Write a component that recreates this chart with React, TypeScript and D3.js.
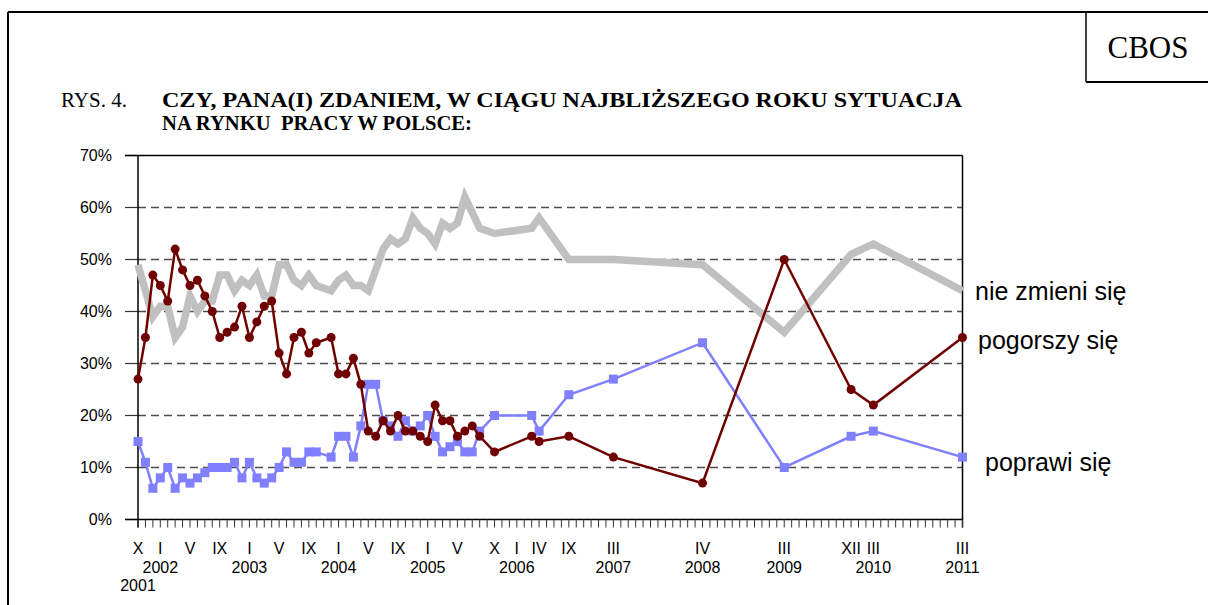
import React from "react";
import * as d3 from "d3";

// ---- data (category index on a monthly-ish axis of 112 categories) ----
const categoryCount = 112;
const surveyIndex = [
  0, 1, 2, 3, 4, 5, 6, 7, 8, 9, 10, 11, 12, 13, 14, 15, 16, 17, 18, 19, 20, 21, 22, 23, 24,
  26, 27, 28, 29, 30, 31, 32, 33, 34, 35, 36, 37, 38, 39, 40, 41, 42, 43, 44, 45, 46,
  48, 53, 54, 58, 64, 76, 87, 96, 99, 111,
];
const nieZmieni = [
  49, 44, 39, 41, 41, 35, 37, 43, 40, 42, 42, 47, 47, 44, 46, 45, 47, 43, 43, 49, 49, 46, 45, 47, 45,
  44, 46, 47, 45, 45, 44, 48, 52, 54, 53, 54, 58, 56, 55, 53, 57, 56, 57, 62, 59, 56,
  55, 56, 58, 50, 50, 49, 36, 51, 53, 44,
];
const pogorszy = [
  27, 35, 47, 45, 42, 52, 48, 45, 46, 43, 40, 35, 36, 37, 41, 35, 38, 41, 42, 32, 28, 35, 36, 32, 34,
  35, 28, 28, 31, 26, 17, 16, 19, 17, 20, 17, 17, 16, 15, 22, 19, 19, 16, 17, 18, 16,
  13, 16, 15, 16, 12, 7, 50, 25, 22, 35,
];
const poprawi = [
  15, 11, 6, 8, 10, 6, 8, 7, 8, 9, 10, 10, 10, 11, 8, 11, 8, 7, 8, 10, 13, 11, 11, 13, 13,
  12, 16, 16, 12, 18, 26, 26, 19, 18, 16, 19, 17, 18, 20, 16, 13, 14, 15, 13, 13, 17,
  20, 20, 17, 24, 27, 34, 10, 16, 17, 12,
];
const monthLabels = [
  { i: 0, t: "X" }, { i: 3, t: "I" }, { i: 7, t: "V" }, { i: 11, t: "IX" },
  { i: 15, t: "I" }, { i: 19, t: "V" }, { i: 23, t: "IX" },
  { i: 27, t: "I" }, { i: 31, t: "V" }, { i: 35, t: "IX" },
  { i: 39, t: "I" }, { i: 43, t: "V" }, { i: 48, t: "X" },
  { i: 51, t: "I" }, { i: 54, t: "IV" }, { i: 58, t: "IX" },
  { i: 64, t: "III" }, { i: 76, t: "IV" }, { i: 87, t: "III" },
  { i: 96, t: "XII" }, { i: 99, t: "III" }, { i: 111, t: "III" },
];
const yearLabels = [
  { i: 3, t: "2002" }, { i: 15, t: "2003" }, { i: 27, t: "2004" }, { i: 39, t: "2005" },
  { i: 51, t: "2006" }, { i: 64, t: "2007" }, { i: 76, t: "2008" }, { i: 87, t: "2009" },
  { i: 99, t: "2010" }, { i: 111, t: "2011" },
];
const firstYearLabel = { i: 0, t: "2001" };
const yTicks = [0, 10, 20, 30, 40, 50, 60, 70];
const seriesNames = ["nie zmieni się", "pogorszy się", "poprawi się"];

const W = 1208;
const H = 605;

export default function App() {
  const x = d3.scaleLinear().domain([0, categoryCount - 1]).range([138, 962.5]);
  const y = d3.scaleLinear().domain([0, 70]).range([519.5, 155.5]);

  const mk = (vals: number[]) =>
    surveyIndex.map((idx, k) => ({ idx, v: vals[k] }));
  const line = d3
    .line<{ idx: number; v: number }>()
    .x((d) => x(d.idx))
    .y((d) => y(d.v));

  const gray = mk(nieZmieni);
  const red = mk(pogorszy);
  const blue = mk(poprawi);

  const sans = "'Liberation Sans', Arial, sans-serif";
  const serif = "'Liberation Serif', 'Times New Roman', serif";
  const x0 = x(0);
  const x1 = x(categoryCount - 1);

  return (
    <svg
      width={W}
      height={H}
      style={{ position: "absolute", left: 0, top: 0, background: "#fff" }}
    >
      {/* page frame */}
      <line x1={8} y1={12} x2={W} y2={12} stroke="#000" strokeWidth={2} />
      <line x1={8} y1={12} x2={8} y2={H} stroke="#000" strokeWidth={2} />
      <line x1={1086} y1={12} x2={1086} y2={82} stroke="#000" strokeWidth={1.5} />
      <line x1={1086} y1={82} x2={W} y2={82} stroke="#000" strokeWidth={2} />
      <text x={1148} y={58} textAnchor="middle" fontFamily={serif} fontSize={31}>
        CBOS
      </text>

      {/* title */}
      <text x={61} y={107} fontFamily={serif} fontSize={21}>
        RYS. 4.
      </text>
      <text
        x={162}
        y={107}
        fontFamily={serif}
        fontSize={22}
        fontWeight="bold"
        textLength={800}
        lengthAdjust="spacingAndGlyphs"
      >
        CZY, PANA(I) ZDANIEM, W CIĄGU NAJBLIŻSZEGO ROKU SYTUACJA
      </text>
      <text
        x={162}
        y={130}
        fontFamily={serif}
        fontSize={22}
        fontWeight="bold"
        xmlSpace="preserve"
        textLength={310}
        lengthAdjust="spacingAndGlyphs"
      >
        NA RYNKU  PRACY W POLSCE:
      </text>

      {/* gridlines */}
      {yTicks.filter((t) => t > 0 && t < 70).map((t) => (
        <line
          key={"g" + t}
          x1={x0}
          x2={x1}
          y1={y(t)}
          y2={y(t)}
          stroke="#4d4d4d"
          strokeWidth={1.5}
          strokeDasharray="8,5"
        />
      ))}
      {/* y ticks */}
      {yTicks.map((t) => (
        <g key={"yt" + t}>
          <line x1={125} x2={x0} y1={y(t)} y2={y(t)} stroke="#333" strokeWidth={1.2} />
          <text
            x={112}
            y={y(t)}
            textAnchor="end"
            dominantBaseline="central"
            fontFamily={sans}
            fontSize={16}
          >
            {t}%
          </text>
        </g>
      ))}
      {/* plot border */}
      <line x1={125} x2={x1} y1={y(70)} y2={y(70)} stroke="#000" strokeWidth={1.5} />
      <line x1={125} x2={x1} y1={y(0)} y2={y(0)} stroke="#000" strokeWidth={1.5} />
      <line x1={x0} x2={x0} y1={y(70)} y2={y(0) + 8} stroke="#000" strokeWidth={1.5} />
      <line x1={x1} x2={x1} y1={y(70)} y2={y(0) + 8} stroke="#000" strokeWidth={1.5} />
      {/* x ticks */}
      {d3.range(categoryCount).map((i) => (
        <line
          key={"xt" + i}
          x1={x(i)}
          x2={x(i)}
          y1={y(0)}
          y2={y(0) + 8}
          stroke="#333"
          strokeWidth={1}
        />
      ))}
      {monthLabels.map((m, k) => (
        <text
          key={"m" + k}
          x={x(m.i)}
          y={548}
          textAnchor="middle"
          dominantBaseline="central"
          fontFamily={sans}
          fontSize={16}
        >
          {m.t}
        </text>
      ))}
      {yearLabels.map((m, k) => (
        <text
          key={"yr" + k}
          x={x(m.i)}
          y={567}
          textAnchor="middle"
          dominantBaseline="central"
          fontFamily={sans}
          fontSize={16}
        >
          {m.t}
        </text>
      ))}
      <text
        x={x(firstYearLabel.i)}
        y={585}
        textAnchor="middle"
        dominantBaseline="central"
        fontFamily={sans}
        fontSize={16}
      >
        {firstYearLabel.t}
      </text>

      {/* series */}
      <path d={line(gray) || ""} fill="none" stroke="#c0c0c0" strokeWidth={7.5} strokeLinejoin="miter" />
      <path d={line(blue) || ""} fill="none" stroke="#8080ff" strokeWidth={2.5} />
      {blue.map((d, k) => (
        <rect key={"b" + k} x={x(d.idx) - 4.5} y={y(d.v) - 4.5} width={9} height={9} fill="#8080ff" />
      ))}
      <path d={line(red) || ""} fill="none" stroke="#700000" strokeWidth={2.5} />
      {red.map((d, k) => (
        <circle key={"r" + k} cx={x(d.idx)} cy={y(d.v)} r={4.5} fill="#700000" />
      ))}

      {/* series labels */}
      <text x={975} y={291} dominantBaseline="central" fontFamily={sans} fontSize={25}>
        {seriesNames[0]}
      </text>
      <text x={978} y={340} dominantBaseline="central" fontFamily={sans} fontSize={25}>
        {seriesNames[1]}
      </text>
      <text x={985} y={462} dominantBaseline="central" fontFamily={sans} fontSize={25}>
        {seriesNames[2]}
      </text>
    </svg>
  );
}
